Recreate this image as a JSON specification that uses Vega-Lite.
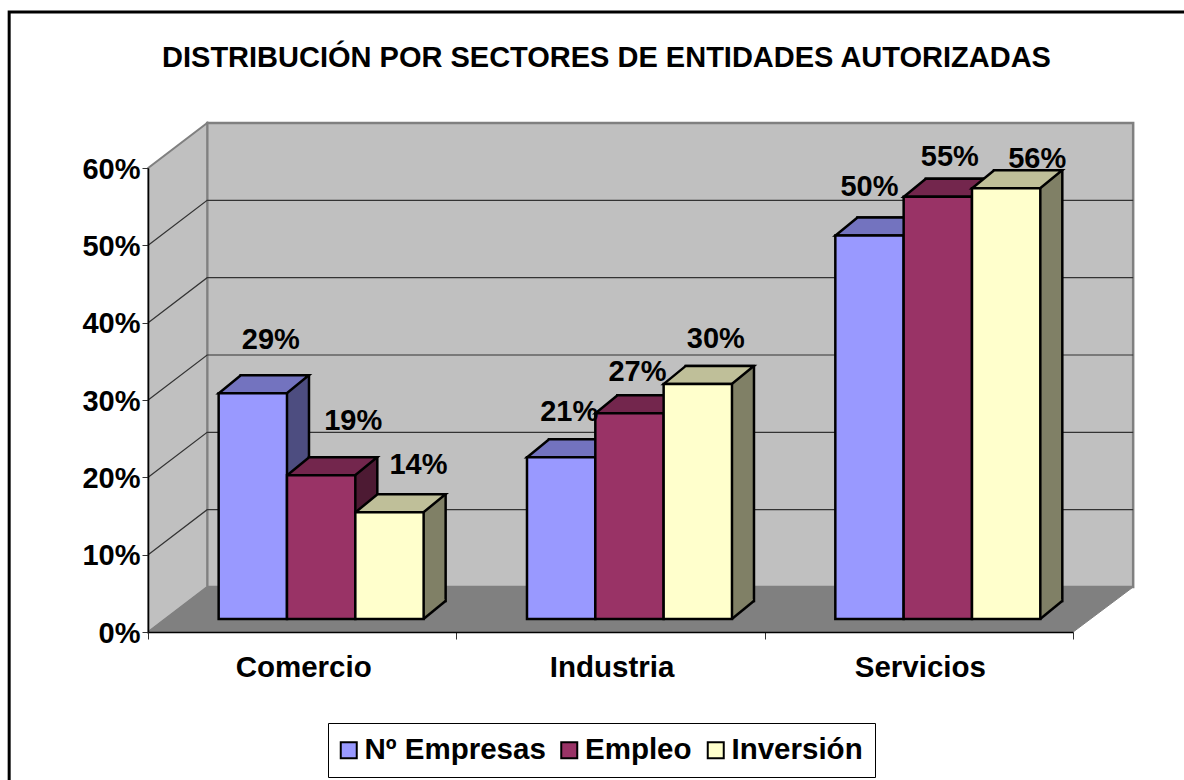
{"$schema":"https://vega.github.io/schema/vega-lite/v6.json","width":925,"height":464,"autosize":{"type":"none"},"padding":{"left":148,"top":168,"right":111,"bottom":148},"background":"white","title":{"text":"DISTRIBUCIÓN POR SECTORES DE ENTIDADES AUTORIZADAS","font":"Liberation Sans","fontSize":29,"fontWeight":"bold","color":"black","anchor":"middle","frame":"group","dx":-4,"dy":67,"offset":0},"config":{"view":{"stroke":null},"font":"Liberation Sans"},"datasets":{"bars":[{"category":"Comercio","series":"Nº Empresas","value":0.292},{"category":"Comercio","series":"Empleo","value":0.186},{"category":"Comercio","series":"Inversión","value":0.138},{"category":"Industria","series":"Nº Empresas","value":0.209},{"category":"Industria","series":"Empleo","value":0.266},{"category":"Industria","series":"Inversión","value":0.304},{"category":"Servicios","series":"Nº Empresas","value":0.496},{"category":"Servicios","series":"Empleo","value":0.546},{"category":"Servicios","series":"Inversión","value":0.557}],"origin":[{"category":"Comercio","value":0}],"grid":[{"category":"Comercio","value":0.1},{"category":"Comercio","value":0.2},{"category":"Comercio","value":0.3},{"category":"Comercio","value":0.4},{"category":"Comercio","value":0.5}]},"layer":[{"data":{"name":"origin"},"mark":{"type":"point","filled":false,"size":4,"stroke":"black","strokeWidth":3,"opacity":1,"shape":"M-293,148L-293,-620L882,-620"},"encoding":{"x":{"field":"category","type":"nominal"},"y":{"field":"value","type":"quantitative"}}},{"data":{"name":"origin"},"mark":{"type":"point","filled":true,"size":4,"fill":"#c0c0c0","stroke":"#808080","strokeWidth":2.5,"opacity":1,"shape":"M-95,-45L-95,-509L831,-509L831,-45Z"},"encoding":{"x":{"field":"category","type":"nominal"},"y":{"field":"value","type":"quantitative"}}},{"data":{"name":"origin"},"mark":{"type":"point","filled":true,"size":4,"fill":"#c0c0c0","stroke":"#808080","strokeWidth":2,"opacity":1,"shape":"M-154,0L-154,-464L-95,-509L-95,-45Z"},"encoding":{"x":{"field":"category","type":"nominal"},"y":{"field":"value","type":"quantitative"}}},{"data":{"name":"origin"},"mark":{"type":"point","filled":true,"size":4,"fill":"#808080","stroke":"#808080","strokeWidth":1,"opacity":1,"shape":"M-154,0L-95,-45L831,-45L771,0Z"},"encoding":{"x":{"field":"category","type":"nominal"},"y":{"field":"value","type":"quantitative"}}},{"data":{"name":"grid"},"mark":{"type":"point","filled":false,"size":4,"stroke":"#333333","strokeWidth":1.2,"opacity":1,"shape":"M-154,0L-95,-45L831,-45"},"encoding":{"x":{"field":"category","type":"nominal"},"y":{"field":"value","type":"quantitative"}}},{"data":{"name":"bars"},"mark":{"type":"bar","stroke":"black","strokeWidth":2.5,"yOffset":-31,"y2Offset":-13,"opacity":1},"encoding":{"x":{"field":"category","type":"nominal"},"xOffset":{"field":"series","type":"nominal","scale":{"type":"band","domain":["Nº Empresas","Empleo","Inversión"],"range":[41,349.3],"paddingInner":0,"paddingOuter":0.756}},"y":{"field":"value","type":"quantitative"},"color":{"field":"series","type":"nominal","legend":null,"scale":{"domain":["Nº Empresas","Empleo","Inversión"],"range":["#4d4d80","#4d1a33","#808066"]}}}},{"data":{"name":"bars"},"mark":{"type":"point","filled":true,"size":4,"stroke":null,"opacity":1,"shape":"M53,-13L74,-30.2L74,-33L53,-33Z"},"encoding":{"x":{"field":"category","type":"nominal"},"xOffset":{"field":"series","type":"nominal","scale":{"type":"band","domain":["Nº Empresas","Empleo","Inversión"],"paddingInner":0,"paddingOuter":0.756}},"y":{"datum":0},"fill":{"field":"series","type":"nominal","legend":null,"scale":{"domain":["Nº Empresas","Empleo","Inversión"],"range":["#4d4d80","#4d1a33","#808066"]}}}},{"data":{"name":"bars"},"mark":{"type":"point","filled":false,"size":4,"stroke":"black","strokeWidth":2.5,"opacity":1,"shape":"M53,-13L75,-31"},"encoding":{"x":{"field":"category","type":"nominal"},"xOffset":{"field":"series","type":"nominal","scale":{"type":"band","domain":["Nº Empresas","Empleo","Inversión"],"paddingInner":0,"paddingOuter":0.756}},"y":{"datum":0}}},{"data":{"name":"bars"},"mark":{"type":"point","filled":true,"size":4,"stroke":"black","strokeWidth":2.5,"opacity":1,"shape":"M-15,-13L53,-13L75,-31L7,-31Z"},"encoding":{"x":{"field":"category","type":"nominal"},"xOffset":{"field":"series","type":"nominal","scale":{"type":"band","domain":["Nº Empresas","Empleo","Inversión"],"paddingInner":0,"paddingOuter":0.756}},"y":{"field":"value","type":"quantitative"},"fill":{"field":"series","type":"nominal","legend":null,"scale":{"domain":["Nº Empresas","Empleo","Inversión"],"range":["#7373bf","#73264d","#bfbf99"]}}}},{"data":{"name":"bars"},"mark":{"type":"bar","stroke":"black","strokeWidth":2.5,"yOffset":-13,"y2Offset":-13,"opacity":1},"encoding":{"x":{"field":"category","type":"nominal","title":null,"scale":{"paddingInner":0,"paddingOuter":0},"axis":{"domainColor":"black","domainWidth":1.5,"tickColor":"#333333","tickSize":7,"tickBand":"extent","labelAngle":0,"labelAlign":"center","labelFont":"Liberation Sans","labelFontSize":29.5,"labelFontWeight":"bold","labelColor":"black","labelPadding":28,"labelOffset":1,"zindex":1}},"xOffset":{"field":"series","type":"nominal","scale":{"type":"band","domain":["Nº Empresas","Empleo","Inversión"],"range":[19,327.3],"paddingInner":0,"paddingOuter":0.756}},"y":{"field":"value","type":"quantitative","title":null,"scale":{"domain":[0,0.6],"nice":false},"axis":{"values":[0,0.1,0.2,0.3,0.4,0.5,0.6],"format":".0%","grid":false,"domainColor":"black","domainWidth":1.5,"tickColor":"#333333","tickSize":6,"labelFont":"Liberation Sans","labelFontSize":29,"labelFontWeight":"bold","labelColor":"black","labelPadding":2,"labelOffset":1,"zindex":1}},"color":{"field":"series","type":"nominal","scale":{"domain":["Nº Empresas","Empleo","Inversión"],"range":["#9999ff","#993366","#ffffcc"]},"legend":{"title":null,"orient":"none","legendX":180,"legendY":555,"direction":"horizontal","columns":3,"symbolType":"square","symbolSize":256,"symbolOffset":-6,"symbolStrokeColor":"black","symbolStrokeWidth":2,"symbolOpacity":1,"labelFont":"Liberation Sans","labelFontSize":29.5,"labelFontWeight":"bold","labelColor":"black","labelOffset":1,"labelLimit":300,"columnPadding":10.5,"padding":12,"strokeColor":"black","fillColor":"white"}}}},{"data":{"name":"bars"},"mark":{"type":"text","font":"Liberation Sans","fontSize":29,"fontWeight":"bold","color":"black","baseline":"middle","align":"center","dx":{"expr":"{'Comercio|Nº Empresas':37,'Comercio|Empleo':51,'Comercio|Inversión':48,'Industria|Nº Empresas':27,'Industria|Empleo':27,'Industria|Inversión':37,'Servicios|Nº Empresas':19,'Servicios|Empleo':31,'Servicios|Inversión':50}[datum.category+'|'+datum.series]"},"dy":{"expr":"{'Comercio|Nº Empresas':-66,'Comercio|Empleo':-67,'Comercio|Inversión':-60,'Industria|Nº Empresas':-58,'Industria|Empleo':-54,'Industria|Inversión':-58,'Servicios|Nº Empresas':-61,'Servicios|Empleo':-53,'Servicios|Inversión':-42}[datum.category+'|'+datum.series]"}},"encoding":{"x":{"field":"category","type":"nominal"},"xOffset":{"field":"series","type":"nominal","scale":{"type":"band","domain":["Nº Empresas","Empleo","Inversión"],"paddingInner":0,"paddingOuter":0.756}},"y":{"field":"value","type":"quantitative"},"text":{"field":"value","type":"quantitative","format":".0%"}}}],"resolve":{"scale":{"color":"independent","fill":"independent","xOffset":"independent"}}}
